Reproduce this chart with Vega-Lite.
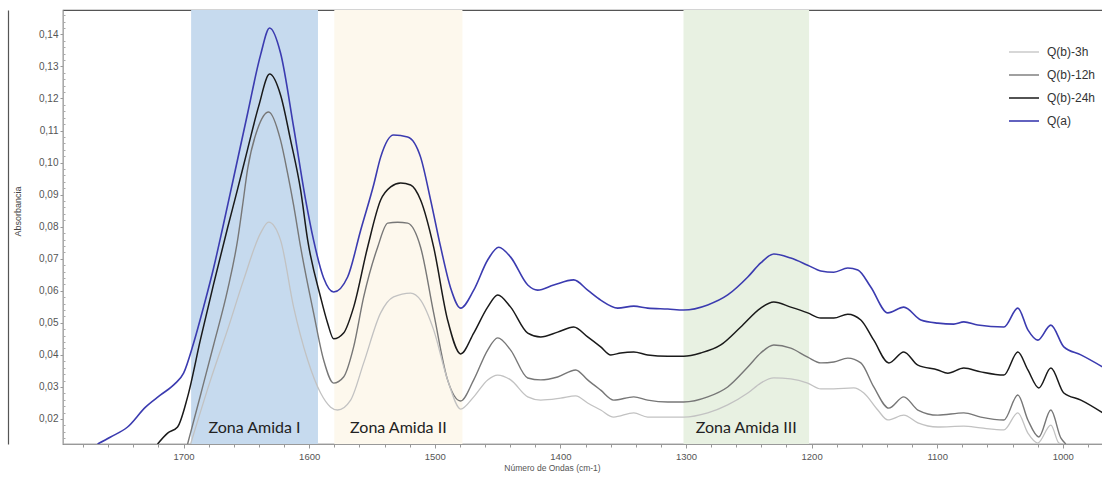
{
  "$schema": "https://vega.github.io/schema/vega-lite/v6.json",
  "width": 1040,
  "height": 434,
  "autosize": {"type": "none"},
  "padding": {"top": 10, "left": 63, "right": 0, "bottom": 33},
  "background": "white",
  "config": {
    "view": {"stroke": "#555555", "strokeWidth": 1.2},
    "font": "Liberation Sans"
  },
  "datasets": {
    "bands": [
      {"start": 1694, "end": 1593, "mid": 1643.5, "label": "Zona Amida I", "zone": "I"},
      {"start": 1580, "end": 1478, "mid": 1529, "label": "Zona Amida II", "zone": "II"},
      {"start": 1302, "end": 1202, "mid": 1252, "label": "Zona Amida III", "zone": "III"}
    ],
    "spectra": [
      {"s": "Q(a)", "wn": 1768.5, "abs": 0.0122},
      {"s": "Q(a)", "wn": 1758.1, "abs": 0.0144},
      {"s": "Q(a)", "wn": 1744.6, "abs": 0.0175},
      {"s": "Q(a)", "wn": 1730.3, "abs": 0.0237},
      {"s": "Q(a)", "wn": 1718.3, "abs": 0.0275},
      {"s": "Q(a)", "wn": 1706.4, "abs": 0.0312},
      {"s": "Q(a)", "wn": 1700.0, "abs": 0.0343},
      {"s": "Q(a)", "wn": 1692.0, "abs": 0.0437},
      {"s": "Q(a)", "wn": 1684.1, "abs": 0.0549},
      {"s": "Q(a)", "wn": 1676.1, "abs": 0.0671},
      {"s": "Q(a)", "wn": 1668.9, "abs": 0.0796},
      {"s": "Q(a)", "wn": 1660.2, "abs": 0.0952},
      {"s": "Q(a)", "wn": 1649.0, "abs": 0.1154},
      {"s": "Q(a)", "wn": 1638.7, "abs": 0.1336},
      {"s": "Q(a)", "wn": 1631.5, "abs": 0.1420},
      {"s": "Q(a)", "wn": 1622.8, "abs": 0.1342},
      {"s": "Q(a)", "wn": 1612.4, "abs": 0.1111},
      {"s": "Q(a)", "wn": 1602.8, "abs": 0.0883},
      {"s": "Q(a)", "wn": 1596.5, "abs": 0.0758},
      {"s": "Q(a)", "wn": 1588.5, "abs": 0.0640},
      {"s": "Q(a)", "wn": 1580.5, "abs": 0.0596},
      {"s": "Q(a)", "wn": 1569.4, "abs": 0.0643},
      {"s": "Q(a)", "wn": 1559.0, "abs": 0.0789},
      {"s": "Q(a)", "wn": 1548.7, "abs": 0.0930},
      {"s": "Q(a)", "wn": 1543.1, "abs": 0.1017},
      {"s": "Q(a)", "wn": 1532.8, "abs": 0.1086},
      {"s": "Q(a)", "wn": 1521.6, "abs": 0.1080},
      {"s": "Q(a)", "wn": 1511.3, "abs": 0.1017},
      {"s": "Q(a)", "wn": 1503.3, "abs": 0.0883},
      {"s": "Q(a)", "wn": 1495.3, "abs": 0.0736},
      {"s": "Q(a)", "wn": 1487.4, "abs": 0.0609},
      {"s": "Q(a)", "wn": 1479.4, "abs": 0.0546},
      {"s": "Q(a)", "wn": 1469.0, "abs": 0.0602},
      {"s": "Q(a)", "wn": 1457.9, "abs": 0.0696},
      {"s": "Q(a)", "wn": 1449.1, "abs": 0.0736},
      {"s": "Q(a)", "wn": 1439.6, "abs": 0.0705},
      {"s": "Q(a)", "wn": 1426.0, "abs": 0.0618},
      {"s": "Q(a)", "wn": 1418.1, "abs": 0.0602},
      {"s": "Q(a)", "wn": 1405.3, "abs": 0.0618},
      {"s": "Q(a)", "wn": 1389.4, "abs": 0.0634},
      {"s": "Q(a)", "wn": 1378.3, "abs": 0.0602},
      {"s": "Q(a)", "wn": 1367.9, "abs": 0.0571},
      {"s": "Q(a)", "wn": 1354.4, "abs": 0.0546},
      {"s": "Q(a)", "wn": 1341.6, "abs": 0.0552},
      {"s": "Q(a)", "wn": 1330.5, "abs": 0.0546},
      {"s": "Q(a)", "wn": 1314.5, "abs": 0.0543},
      {"s": "Q(a)", "wn": 1301.8, "abs": 0.0540},
      {"s": "Q(a)", "wn": 1282.7, "abs": 0.0556},
      {"s": "Q(a)", "wn": 1266.8, "abs": 0.0587},
      {"s": "Q(a)", "wn": 1250.8, "abs": 0.0643},
      {"s": "Q(a)", "wn": 1240.5, "abs": 0.0687},
      {"s": "Q(a)", "wn": 1230.1, "abs": 0.0715},
      {"s": "Q(a)", "wn": 1216.6, "abs": 0.0702},
      {"s": "Q(a)", "wn": 1203.1, "abs": 0.0680},
      {"s": "Q(a)", "wn": 1192.7, "abs": 0.0662},
      {"s": "Q(a)", "wn": 1182.3, "abs": 0.0658},
      {"s": "Q(a)", "wn": 1171.2, "abs": 0.0671},
      {"s": "Q(a)", "wn": 1163.2, "abs": 0.0665},
      {"s": "Q(a)", "wn": 1152.9, "abs": 0.0612},
      {"s": "Q(a)", "wn": 1139.3, "abs": 0.0531},
      {"s": "Q(a)", "wn": 1126.6, "abs": 0.0549},
      {"s": "Q(a)", "wn": 1113.0, "abs": 0.0509},
      {"s": "Q(a)", "wn": 1099.5, "abs": 0.0499},
      {"s": "Q(a)", "wn": 1086.8, "abs": 0.0496},
      {"s": "Q(a)", "wn": 1078.8, "abs": 0.0503},
      {"s": "Q(a)", "wn": 1067.7, "abs": 0.0493},
      {"s": "Q(a)", "wn": 1046.9, "abs": 0.0487},
      {"s": "Q(a)", "wn": 1035.8, "abs": 0.0546},
      {"s": "Q(a)", "wn": 1027.8, "abs": 0.0478},
      {"s": "Q(a)", "wn": 1019.9, "abs": 0.0446},
      {"s": "Q(a)", "wn": 1009.5, "abs": 0.0493},
      {"s": "Q(a)", "wn": 999.2, "abs": 0.0425},
      {"s": "Q(a)", "wn": 985.6, "abs": 0.0400},
      {"s": "Q(a)", "wn": 968.1, "abs": 0.0362},

      {"s": "Q(b)-24h", "wn": 1720.7, "abs": 0.0122},
      {"s": "Q(b)-24h", "wn": 1712.7, "abs": 0.0156},
      {"s": "Q(b)-24h", "wn": 1704.8, "abs": 0.0175},
      {"s": "Q(b)-24h", "wn": 1696.8, "abs": 0.0269},
      {"s": "Q(b)-24h", "wn": 1686.5, "abs": 0.0449},
      {"s": "Q(b)-24h", "wn": 1676.1, "abs": 0.0621},
      {"s": "Q(b)-24h", "wn": 1665.0, "abs": 0.0796},
      {"s": "Q(b)-24h", "wn": 1657.0, "abs": 0.0917},
      {"s": "Q(b)-24h", "wn": 1649.0, "abs": 0.1042},
      {"s": "Q(b)-24h", "wn": 1640.2, "abs": 0.1176},
      {"s": "Q(b)-24h", "wn": 1631.5, "abs": 0.1276},
      {"s": "Q(b)-24h", "wn": 1622.8, "abs": 0.1211},
      {"s": "Q(b)-24h", "wn": 1614.8, "abs": 0.1070},
      {"s": "Q(b)-24h", "wn": 1606.8, "abs": 0.0914},
      {"s": "Q(b)-24h", "wn": 1601.2, "abs": 0.0758},
      {"s": "Q(b)-24h", "wn": 1590.9, "abs": 0.0580},
      {"s": "Q(b)-24h", "wn": 1585.3, "abs": 0.0499},
      {"s": "Q(b)-24h", "wn": 1580.5, "abs": 0.0450},
      {"s": "Q(b)-24h", "wn": 1572.6, "abs": 0.0468},
      {"s": "Q(b)-24h", "wn": 1564.6, "abs": 0.0549},
      {"s": "Q(b)-24h", "wn": 1553.5, "abs": 0.0736},
      {"s": "Q(b)-24h", "wn": 1543.1, "abs": 0.0883},
      {"s": "Q(b)-24h", "wn": 1535.1, "abs": 0.0924},
      {"s": "Q(b)-24h", "wn": 1527.2, "abs": 0.0936},
      {"s": "Q(b)-24h", "wn": 1519.2, "abs": 0.0930},
      {"s": "Q(b)-24h", "wn": 1511.3, "abs": 0.0883},
      {"s": "Q(b)-24h", "wn": 1500.9, "abs": 0.0736},
      {"s": "Q(b)-24h", "wn": 1489.8, "abs": 0.0509},
      {"s": "Q(b)-24h", "wn": 1479.4, "abs": 0.0403},
      {"s": "Q(b)-24h", "wn": 1469.0, "abs": 0.0468},
      {"s": "Q(b)-24h", "wn": 1457.9, "abs": 0.0549},
      {"s": "Q(b)-24h", "wn": 1449.9, "abs": 0.0587},
      {"s": "Q(b)-24h", "wn": 1439.6, "abs": 0.0549},
      {"s": "Q(b)-24h", "wn": 1426.0, "abs": 0.0468},
      {"s": "Q(b)-24h", "wn": 1415.7, "abs": 0.0456},
      {"s": "Q(b)-24h", "wn": 1402.2, "abs": 0.0471},
      {"s": "Q(b)-24h", "wn": 1389.4, "abs": 0.0487},
      {"s": "Q(b)-24h", "wn": 1378.3, "abs": 0.0456},
      {"s": "Q(b)-24h", "wn": 1367.9, "abs": 0.0425},
      {"s": "Q(b)-24h", "wn": 1359.9, "abs": 0.0400},
      {"s": "Q(b)-24h", "wn": 1352.0, "abs": 0.0406},
      {"s": "Q(b)-24h", "wn": 1341.6, "abs": 0.0409},
      {"s": "Q(b)-24h", "wn": 1330.5, "abs": 0.0400},
      {"s": "Q(b)-24h", "wn": 1314.5, "abs": 0.0396},
      {"s": "Q(b)-24h", "wn": 1301.8, "abs": 0.0396},
      {"s": "Q(b)-24h", "wn": 1288.3, "abs": 0.0406},
      {"s": "Q(b)-24h", "wn": 1272.3, "abs": 0.0431},
      {"s": "Q(b)-24h", "wn": 1256.4, "abs": 0.0487},
      {"s": "Q(b)-24h", "wn": 1240.5, "abs": 0.0546},
      {"s": "Q(b)-24h", "wn": 1230.1, "abs": 0.0565},
      {"s": "Q(b)-24h", "wn": 1216.6, "abs": 0.0549},
      {"s": "Q(b)-24h", "wn": 1203.1, "abs": 0.0531},
      {"s": "Q(b)-24h", "wn": 1192.7, "abs": 0.0515},
      {"s": "Q(b)-24h", "wn": 1182.3, "abs": 0.0515},
      {"s": "Q(b)-24h", "wn": 1171.2, "abs": 0.0527},
      {"s": "Q(b)-24h", "wn": 1160.8, "abs": 0.0509},
      {"s": "Q(b)-24h", "wn": 1150.5, "abs": 0.0446},
      {"s": "Q(b)-24h", "wn": 1138.5, "abs": 0.0375},
      {"s": "Q(b)-24h", "wn": 1126.6, "abs": 0.0409},
      {"s": "Q(b)-24h", "wn": 1115.4, "abs": 0.0368},
      {"s": "Q(b)-24h", "wn": 1099.5, "abs": 0.0353},
      {"s": "Q(b)-24h", "wn": 1091.6, "abs": 0.0343},
      {"s": "Q(b)-24h", "wn": 1078.8, "abs": 0.0359},
      {"s": "Q(b)-24h", "wn": 1065.3, "abs": 0.0347},
      {"s": "Q(b)-24h", "wn": 1046.9, "abs": 0.0337},
      {"s": "Q(b)-24h", "wn": 1035.8, "abs": 0.0409},
      {"s": "Q(b)-24h", "wn": 1027.8, "abs": 0.0353},
      {"s": "Q(b)-24h", "wn": 1019.1, "abs": 0.0297},
      {"s": "Q(b)-24h", "wn": 1009.5, "abs": 0.0359},
      {"s": "Q(b)-24h", "wn": 999.2, "abs": 0.0281},
      {"s": "Q(b)-24h", "wn": 985.6, "abs": 0.0259},
      {"s": "Q(b)-24h", "wn": 968.1, "abs": 0.0219},

      {"s": "Q(b)-12h", "wn": 1696.8, "abs": 0.0122},
      {"s": "Q(b)-12h", "wn": 1686.5, "abs": 0.0275},
      {"s": "Q(b)-12h", "wn": 1676.1, "abs": 0.0431},
      {"s": "Q(b)-12h", "wn": 1665.0, "abs": 0.0602},
      {"s": "Q(b)-12h", "wn": 1657.0, "abs": 0.0758},
      {"s": "Q(b)-12h", "wn": 1653.0, "abs": 0.0867},
      {"s": "Q(b)-12h", "wn": 1649.0, "abs": 0.0980},
      {"s": "Q(b)-12h", "wn": 1641.1, "abs": 0.1105},
      {"s": "Q(b)-12h", "wn": 1632.3, "abs": 0.1158},
      {"s": "Q(b)-12h", "wn": 1622.8, "abs": 0.1070},
      {"s": "Q(b)-12h", "wn": 1617.2, "abs": 0.0967},
      {"s": "Q(b)-12h", "wn": 1612.4, "abs": 0.0867},
      {"s": "Q(b)-12h", "wn": 1606.8, "abs": 0.0736},
      {"s": "Q(b)-12h", "wn": 1596.5, "abs": 0.0531},
      {"s": "Q(b)-12h", "wn": 1588.5, "abs": 0.0384},
      {"s": "Q(b)-12h", "wn": 1580.5, "abs": 0.0312},
      {"s": "Q(b)-12h", "wn": 1572.6, "abs": 0.0331},
      {"s": "Q(b)-12h", "wn": 1564.6, "abs": 0.0425},
      {"s": "Q(b)-12h", "wn": 1556.6, "abs": 0.0581},
      {"s": "Q(b)-12h", "wn": 1545.5, "abs": 0.0736},
      {"s": "Q(b)-12h", "wn": 1537.5, "abs": 0.0811},
      {"s": "Q(b)-12h", "wn": 1529.6, "abs": 0.0814},
      {"s": "Q(b)-12h", "wn": 1521.6, "abs": 0.0811},
      {"s": "Q(b)-12h", "wn": 1511.3, "abs": 0.0736},
      {"s": "Q(b)-12h", "wn": 1500.9, "abs": 0.0531},
      {"s": "Q(b)-12h", "wn": 1489.8, "abs": 0.0322},
      {"s": "Q(b)-12h", "wn": 1479.4, "abs": 0.0256},
      {"s": "Q(b)-12h", "wn": 1469.0, "abs": 0.0322},
      {"s": "Q(b)-12h", "wn": 1457.9, "abs": 0.0415},
      {"s": "Q(b)-12h", "wn": 1449.9, "abs": 0.0453},
      {"s": "Q(b)-12h", "wn": 1439.6, "abs": 0.0415},
      {"s": "Q(b)-12h", "wn": 1426.0, "abs": 0.0328},
      {"s": "Q(b)-12h", "wn": 1415.7, "abs": 0.0322},
      {"s": "Q(b)-12h", "wn": 1402.2, "abs": 0.0331},
      {"s": "Q(b)-12h", "wn": 1387.8, "abs": 0.0353},
      {"s": "Q(b)-12h", "wn": 1378.3, "abs": 0.0322},
      {"s": "Q(b)-12h", "wn": 1367.9, "abs": 0.0290},
      {"s": "Q(b)-12h", "wn": 1357.6, "abs": 0.0259},
      {"s": "Q(b)-12h", "wn": 1341.6, "abs": 0.0269},
      {"s": "Q(b)-12h", "wn": 1330.5, "abs": 0.0259},
      {"s": "Q(b)-12h", "wn": 1314.5, "abs": 0.0253},
      {"s": "Q(b)-12h", "wn": 1301.8, "abs": 0.0253},
      {"s": "Q(b)-12h", "wn": 1282.7, "abs": 0.0269},
      {"s": "Q(b)-12h", "wn": 1266.8, "abs": 0.0300},
      {"s": "Q(b)-12h", "wn": 1250.8, "abs": 0.0362},
      {"s": "Q(b)-12h", "wn": 1240.5, "abs": 0.0406},
      {"s": "Q(b)-12h", "wn": 1230.1, "abs": 0.0431},
      {"s": "Q(b)-12h", "wn": 1216.6, "abs": 0.0421},
      {"s": "Q(b)-12h", "wn": 1203.1, "abs": 0.0393},
      {"s": "Q(b)-12h", "wn": 1192.7, "abs": 0.0375},
      {"s": "Q(b)-12h", "wn": 1182.3, "abs": 0.0378},
      {"s": "Q(b)-12h", "wn": 1171.2, "abs": 0.0390},
      {"s": "Q(b)-12h", "wn": 1160.8, "abs": 0.0375},
      {"s": "Q(b)-12h", "wn": 1150.5, "abs": 0.0300},
      {"s": "Q(b)-12h", "wn": 1138.5, "abs": 0.0234},
      {"s": "Q(b)-12h", "wn": 1126.6, "abs": 0.0269},
      {"s": "Q(b)-12h", "wn": 1115.4, "abs": 0.0228},
      {"s": "Q(b)-12h", "wn": 1099.5, "abs": 0.0212},
      {"s": "Q(b)-12h", "wn": 1078.8, "abs": 0.0219},
      {"s": "Q(b)-12h", "wn": 1065.3, "abs": 0.0206},
      {"s": "Q(b)-12h", "wn": 1046.9, "abs": 0.0197},
      {"s": "Q(b)-12h", "wn": 1035.8, "abs": 0.0275},
      {"s": "Q(b)-12h", "wn": 1027.8, "abs": 0.0197},
      {"s": "Q(b)-12h", "wn": 1019.1, "abs": 0.0144},
      {"s": "Q(b)-12h", "wn": 1009.5, "abs": 0.0228},
      {"s": "Q(b)-12h", "wn": 1001.6, "abs": 0.0141},
      {"s": "Q(b)-12h", "wn": 997.6, "abs": 0.0122},

      {"s": "Q(b)-3h", "wn": 1694.4, "abs": 0.0122},
      {"s": "Q(b)-3h", "wn": 1678.5, "abs": 0.0322},
      {"s": "Q(b)-3h", "wn": 1665.0, "abs": 0.0478},
      {"s": "Q(b)-3h", "wn": 1652.2, "abs": 0.0634},
      {"s": "Q(b)-3h", "wn": 1638.7, "abs": 0.0780},
      {"s": "Q(b)-3h", "wn": 1632.3, "abs": 0.0814},
      {"s": "Q(b)-3h", "wn": 1622.8, "abs": 0.0758},
      {"s": "Q(b)-3h", "wn": 1612.4, "abs": 0.0549},
      {"s": "Q(b)-3h", "wn": 1601.2, "abs": 0.0384},
      {"s": "Q(b)-3h", "wn": 1590.9, "abs": 0.0281},
      {"s": "Q(b)-3h", "wn": 1582.9, "abs": 0.0237},
      {"s": "Q(b)-3h", "wn": 1577.4, "abs": 0.0228},
      {"s": "Q(b)-3h", "wn": 1567.0, "abs": 0.0259},
      {"s": "Q(b)-3h", "wn": 1556.6, "abs": 0.0375},
      {"s": "Q(b)-3h", "wn": 1543.1, "abs": 0.0531},
      {"s": "Q(b)-3h", "wn": 1532.8, "abs": 0.0581},
      {"s": "Q(b)-3h", "wn": 1519.2, "abs": 0.0593},
      {"s": "Q(b)-3h", "wn": 1511.3, "abs": 0.0571},
      {"s": "Q(b)-3h", "wn": 1500.9, "abs": 0.0478},
      {"s": "Q(b)-3h", "wn": 1489.8, "abs": 0.0322},
      {"s": "Q(b)-3h", "wn": 1479.4, "abs": 0.0231},
      {"s": "Q(b)-3h", "wn": 1469.0, "abs": 0.0269},
      {"s": "Q(b)-3h", "wn": 1457.9, "abs": 0.0322},
      {"s": "Q(b)-3h", "wn": 1449.9, "abs": 0.0337},
      {"s": "Q(b)-3h", "wn": 1439.6, "abs": 0.0322},
      {"s": "Q(b)-3h", "wn": 1426.0, "abs": 0.0269},
      {"s": "Q(b)-3h", "wn": 1415.7, "abs": 0.0259},
      {"s": "Q(b)-3h", "wn": 1399.8, "abs": 0.0265},
      {"s": "Q(b)-3h", "wn": 1387.8, "abs": 0.0272},
      {"s": "Q(b)-3h", "wn": 1378.3, "abs": 0.0250},
      {"s": "Q(b)-3h", "wn": 1367.9, "abs": 0.0228},
      {"s": "Q(b)-3h", "wn": 1357.6, "abs": 0.0206},
      {"s": "Q(b)-3h", "wn": 1341.6, "abs": 0.0219},
      {"s": "Q(b)-3h", "wn": 1330.5, "abs": 0.0206},
      {"s": "Q(b)-3h", "wn": 1314.5, "abs": 0.0206},
      {"s": "Q(b)-3h", "wn": 1301.8, "abs": 0.0206},
      {"s": "Q(b)-3h", "wn": 1282.7, "abs": 0.0219},
      {"s": "Q(b)-3h", "wn": 1266.8, "abs": 0.0244},
      {"s": "Q(b)-3h", "wn": 1250.8, "abs": 0.0281},
      {"s": "Q(b)-3h", "wn": 1240.5, "abs": 0.0312},
      {"s": "Q(b)-3h", "wn": 1230.1, "abs": 0.0328},
      {"s": "Q(b)-3h", "wn": 1216.6, "abs": 0.0325},
      {"s": "Q(b)-3h", "wn": 1203.1, "abs": 0.0312},
      {"s": "Q(b)-3h", "wn": 1192.7, "abs": 0.0294},
      {"s": "Q(b)-3h", "wn": 1182.3, "abs": 0.0294},
      {"s": "Q(b)-3h", "wn": 1166.4, "abs": 0.0297},
      {"s": "Q(b)-3h", "wn": 1158.4, "abs": 0.0281},
      {"s": "Q(b)-3h", "wn": 1147.3, "abs": 0.0228},
      {"s": "Q(b)-3h", "wn": 1139.3, "abs": 0.0197},
      {"s": "Q(b)-3h", "wn": 1126.6, "abs": 0.0212},
      {"s": "Q(b)-3h", "wn": 1115.4, "abs": 0.0188},
      {"s": "Q(b)-3h", "wn": 1099.5, "abs": 0.0175},
      {"s": "Q(b)-3h", "wn": 1078.8, "abs": 0.0178},
      {"s": "Q(b)-3h", "wn": 1065.3, "abs": 0.0172},
      {"s": "Q(b)-3h", "wn": 1046.9, "abs": 0.0166},
      {"s": "Q(b)-3h", "wn": 1035.8, "abs": 0.0219},
      {"s": "Q(b)-3h", "wn": 1027.8, "abs": 0.0156},
      {"s": "Q(b)-3h", "wn": 1019.9, "abs": 0.0125},
      {"s": "Q(b)-3h", "wn": 1009.5, "abs": 0.0181},
      {"s": "Q(b)-3h", "wn": 1003.1, "abs": 0.0125},
      {"s": "Q(b)-3h", "wn": 999.9, "abs": 0.0122}
    ]
  },
  "resolve": {"axis": {"x": "independent", "y": "independent"}},
  "layer": [
    {
      "data": {"name": "bands"},
      "mark": {"type": "rect", "clip": true},
      "encoding": {
        "x": {
          "field": "start", "type": "quantitative",
          "scale": {"domain": [968, 1796], "reverse": true, "nice": false, "zero": false},
          "axis": {
            "orient": "bottom",
            "values": [1780,1760,1740,1720,1680,1660,1640,1620,1580,1560,1540,1520,1480,1460,1440,1420,1380,1360,1340,1320,1280,1260,1240,1220,1180,1160,1140,1120,1080,1060,1040,1020,980],
            "labels": false, "domain": false, "grid": false, "title": null,
            "tickSize": 3, "tickColor": "#999999", "tickWidth": 1
          }
        },
        "x2": {"field": "end"},
        "fill": {
          "field": "zone", "type": "nominal", "legend": null,
          "scale": {"domain": ["I", "II", "III"], "range": ["#c6daee", "#fdf8ed", "#e8f1e2"]}
        },
        "opacity": {"value": 1}
      }
    },
    {
      "data": {"name": "bands"},
      "mark": {"type": "text", "font": "Lato", "fontSize": 16, "color": "#222222", "baseline": "middle", "align": "center"},
      "encoding": {
        "x": {"field": "mid", "type": "quantitative", "axis": null},
        "y": {
          "datum": 0.0172, "type": "quantitative",
          "scale": {"domain": [0.0122, 0.1476], "nice": false, "zero": false},
          "axis": {
            "orient": "left",
            "values": [0.014,0.016,0.018,0.022,0.024,0.026,0.028,0.032,0.034,0.036,0.038,0.042,0.044,0.046,0.048,0.052,0.054,0.056,0.058,0.062,0.064,0.066,0.068,0.072,0.074,0.076,0.078,0.082,0.084,0.086,0.088,0.092,0.094,0.096,0.098,0.102,0.104,0.106,0.108,0.112,0.114,0.116,0.118,0.122,0.124,0.126,0.128,0.132,0.134,0.136,0.138,0.142,0.144,0.146],
            "labels": false, "domain": false, "grid": false, "title": null,
            "tickSize": -2, "tickColor": "#aaaaaa", "tickWidth": 1
          }
        },
        "text": {"field": "label"}
      }
    },
    {
      "data": {"name": "spectra"},
      "mark": {"type": "line", "interpolate": "monotone", "clip": true},
      "encoding": {
        "x": {
          "field": "wn", "type": "quantitative",
          "axis": {
            "orient": "bottom",
            "values": [1700, 1600, 1500, 1400, 1300, 1200, 1100, 1000],
            "format": "d",
            "grid": false,
            "domainColor": "#999999", "domainWidth": 1,
            "tickColor": "#999999", "tickSize": 4,
            "labelFont": "Liberation Sans", "labelFontSize": 9.5, "labelColor": "#555555", "labelPadding": 3,
            "title": "Número de Ondas (cm-1)",
            "titleFont": "Liberation Sans", "titleFontSize": 8.5, "titleFontWeight": "normal", "titleColor": "#555555",
            "titlePadding": 3, "titleX": 489, "titleAlign": "center"
          }
        },
        "y": {
          "field": "abs", "type": "quantitative",
          "axis": {
            "orient": "left",
            "values": [0.02, 0.03, 0.04, 0.05, 0.06, 0.07, 0.08, 0.09, 0.10, 0.11, 0.12, 0.13, 0.14],
            "labelExpr": "replace(format(datum.value, '.2f'), '.', ',')",
            "grid": false,
            "domainColor": "#aaaaaa", "domainWidth": 1,
            "tickColor": "#999999", "tickSize": 3,
            "labelFont": "Liberation Sans", "labelFontSize": 10, "labelColor": "#555555", "labelPadding": 2,
            "title": "Absorbancia",
            "titleFont": "Liberation Sans", "titleFontSize": 9, "titleFontWeight": "normal", "titleColor": "#444444",
            "titleAngle": 270, "titleX": -46, "titleY": 201, "titleAlign": "center", "titleBaseline": "middle"
          }
        },
        "color": {
          "field": "s", "type": "nominal",
          "scale": {
            "domain": ["Q(b)-3h", "Q(b)-12h", "Q(b)-24h", "Q(a)"],
            "range": ["#c2c2c2", "#777777", "#1a1a1a", "#3b3bb0"]
          },
          "legend": {
            "orient": "none", "legendX": 945, "legendY": 34,
            "title": null, "symbolType": "stroke", "symbolSize": 900, "symbolStrokeWidth": 1.6,
            "labelFont": "Liberation Sans", "labelFontSize": 12, "labelColor": "#333333",
            "clipHeight": 16, "rowPadding": 7, "labelOffset": 7
          }
        },
        "strokeWidth": {
          "field": "s", "type": "nominal", "legend": null,
          "scale": {"domain": ["Q(b)-3h", "Q(b)-12h", "Q(b)-24h", "Q(a)"], "range": [1.3, 1.6, 2.0, 1.6]}
        }
      }
    },
    {
      "data": {"name": "bands"},
      "mark": {"type": "rule", "opacity": 0},
      "encoding": {
        "y": {
          "datum": 0.0172, "type": "quantitative",
          "axis": {
            "orient": "left", "offset": 55, "labels": false, "ticks": false, "grid": false, "title": null,
            "domain": true, "domainColor": "#555555", "domainWidth": 1.2
          }
        }
      }
    }
  ]
}
